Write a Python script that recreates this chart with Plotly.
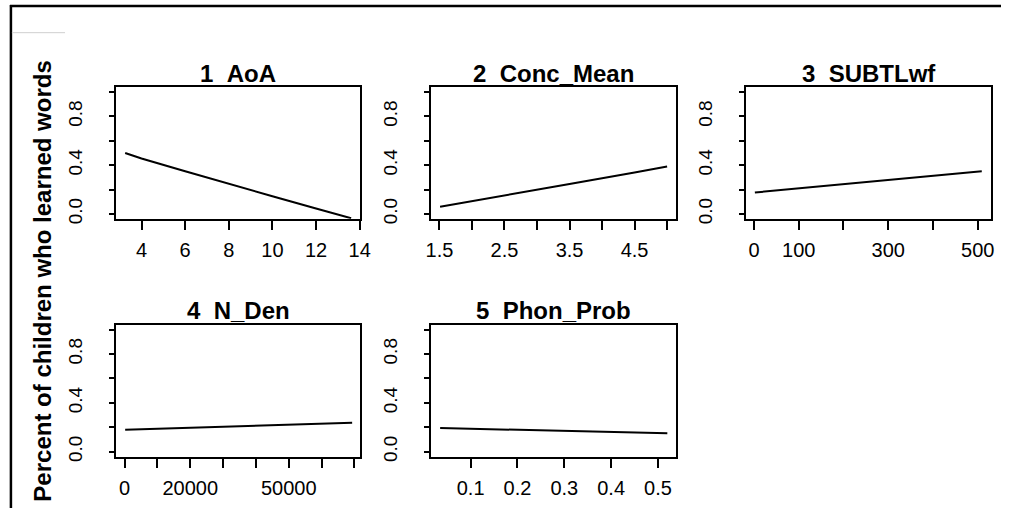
import plotly.graph_objects as go

W, H = 1011, 513

# ---- data ----
titles = ["1\u00a0\u00a0AoA", "2\u00a0\u00a0Conc_Mean", "3\u00a0\u00a0SUBTLwf", "4\u00a0\u00a0N_Den", "5\u00a0\u00a0Phon_Prob"]

aoa_x = [3.25, 4, 6, 8, 10, 12, 13.61]
aoa_y = [0.50, 0.455, 0.35, 0.245, 0.145, 0.045, -0.035]

conc_x = [1.51, 2.5, 3.5, 4.5, 5.0]
conc_y = [0.06, 0.15, 0.245, 0.34, 0.39]

subtl_x = [2, 100, 200, 300, 400, 509]
subtl_y = [0.176, 0.21, 0.244, 0.278, 0.313, 0.35]

nden_x = [200, 20000, 40000, 60000, 69300]
nden_y = [0.18, 0.195, 0.212, 0.228, 0.237]

phon_x = [0.035, 0.1, 0.2, 0.3, 0.4, 0.52]
phon_y = [0.193, 0.188, 0.179, 0.170, 0.162, 0.151]

y_tickvals = [0.0, 0.2, 0.4, 0.6, 0.8, 1.0]
y_ticktext = ["0.0", "", "0.4", "", "0.8", ""]

x_tickvals = [
    [4, 6, 8, 10, 12, 14],
    [1.5, 2.0, 2.5, 3.0, 3.5, 4.0, 4.5, 5.0],
    [0, 100, 200, 300, 400, 500],
    [0, 10000, 20000, 30000, 40000, 50000, 60000, 70000],
    [0.1, 0.2, 0.3, 0.4, 0.5],
]
x_ticktext = [
    ["4", "6", "8", "10", "12", "14"],
    ["1.5", "", "2.5", "", "3.5", "", "4.5", ""],
    ["0", "100", "", "300", "", "500"],
    ["0", "", "20000", "", "", "50000", "", ""],
    ["0.1", "0.2", "0.3", "0.4", "0.5"],
]
x_ranges = [[2.84, 14.03], [1.373, 5.14], [-17.6, 530], [-2520, 71790], [0.0158, 0.539]]
y_range = [-0.04, 1.04]

series = [(aoa_x, aoa_y), (conc_x, conc_y), (subtl_x, subtl_y), (nden_x, nden_y), (phon_x, phon_y)]

# panel boxes in pixels (left, right, top, bottom)
boxes = [(112, 360, 88, 221), (432, 681, 88, 221), (752, 1001, 88, 221),
         (112, 360, 328, 461), (432, 681, 328, 461)]

FONT = "Liberation Sans, Arial, sans-serif"

fig = go.Figure()
layout = dict(
    width=W, height=H, margin=dict(l=0, r=0, t=0, b=0),
    paper_bgcolor="white", plot_bgcolor="white", showlegend=False,
    font=dict(family=FONT, color="black"),
)
annotations = []
for i, ((xs, ys), (l, r, t, b)) in enumerate(zip(series, boxes)):
    n = "" if i == 0 else str(i + 1)
    fig.add_trace(go.Scatter(x=xs, y=ys, mode="lines", line=dict(color="black", width=2),
                             xaxis="x" + n, yaxis="y" + n, hoverinfo="skip"))
    layout["xaxis" + n] = dict(
        domain=[l / W, r / W], anchor="y" + n, range=x_ranges[i],
        tickvals=x_tickvals[i], ticktext=x_ticktext[i], ticks="outside", ticklen=9,
        tickwidth=2, tickcolor="black", showline=True, linewidth=2, linecolor="black",
        mirror=True, showgrid=False, zeroline=False,
        tickfont=dict(size=20, family=FONT, color="black"), ticklabelstandoff=3,
    )
    layout["yaxis" + n] = dict(
        domain=[1 - b / H, 1 - t / H], anchor="x" + n, range=y_range,
        tickvals=y_tickvals, ticktext=y_ticktext, ticks="outside", ticklen=5,
        tickwidth=2, tickcolor="black", showline=True, linewidth=2, linecolor="black",
        mirror=True, showgrid=False, zeroline=False, tickangle=-90,
        tickfont=dict(size=19, family=FONT, color="black"), ticklabelstandoff=20,
    )
    annotations.append(dict(
        text="<b>" + titles[i] + "</b>", x=(l + r) / 2 / W, y=1 - (t - 14) / H,
        xref="paper", yref="paper", xanchor="center", yanchor="middle",
        showarrow=False, font=dict(size=24, family=FONT, color="black"),
    ))

annotations.append(dict(
    text="<b>Percent of children who learned words</b>", x=37 / W, y=1 - 284 / H,
    xref="paper", yref="paper", xanchor="center", yanchor="middle", textangle=-90,
    showarrow=False, font=dict(size=24, family=FONT, color="black"),
))
layout["annotations"] = annotations
layout["shapes"] = [
    dict(type="line", xref="paper", yref="paper", x0=4 / W, x1=1, y0=1 - 6 / H, y1=1 - 6 / H,
         line=dict(color="black", width=2.5)),
    dict(type="line", xref="paper", yref="paper", x0=5 / W, x1=5 / W, y0=0, y1=1 - 5 / H,
         line=dict(color="black", width=2.5)),
    dict(type="line", xref="paper", yref="paper", x0=6 / W, x1=60 / W, y0=1 - 33 / H, y1=1 - 33 / H,
         line=dict(color="#cfcfcf", width=1)),
]
fig.update_layout(**layout)
fig.write_html(
    "out.html",
    config={"displayModeBar": False},
    post_script="document.body.style.margin='0';document.body.style.overflow='hidden';",
)
